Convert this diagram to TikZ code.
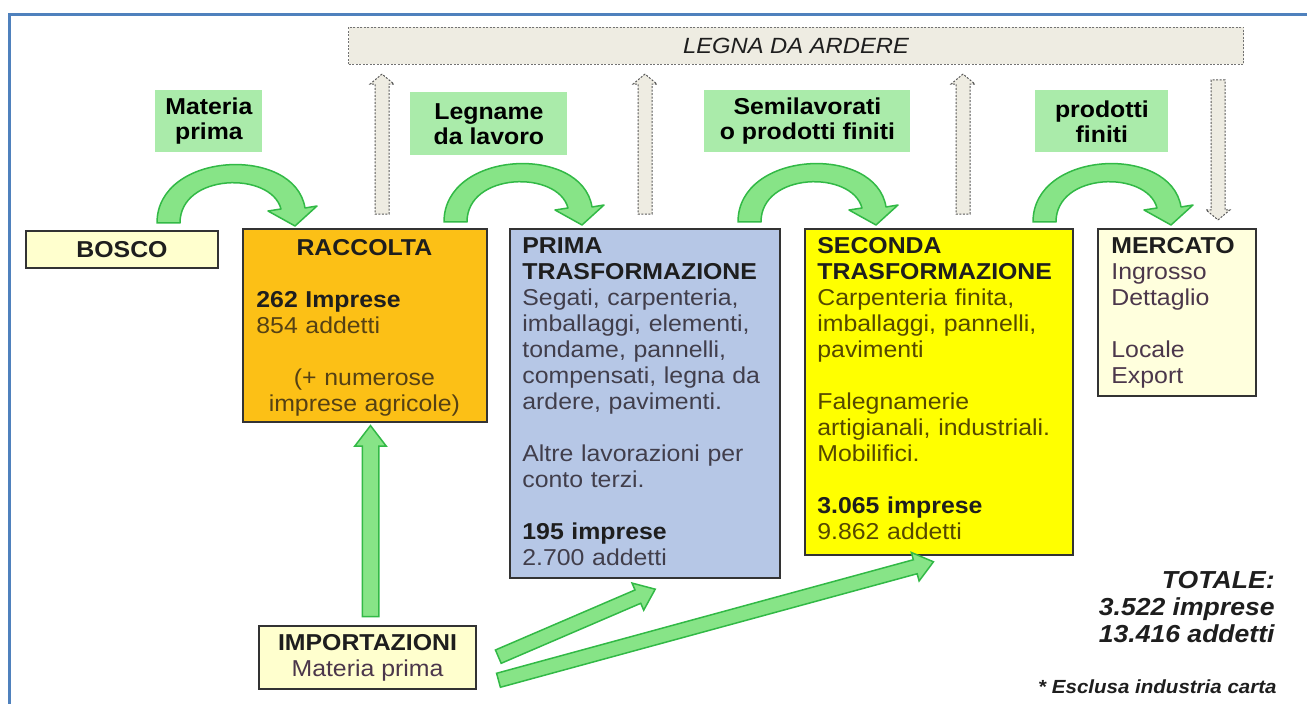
\documentclass[tikz,border=0pt]{standalone}
\usepackage{fontspec}
\setmainfont{Liberation Sans}[FakeStretch=1.08]
\usetikzlibrary{calc,fit,shapes.arrows}

\newlength{\pxu}\setlength{\pxu}{0.5pt}
\definecolor{cornice}{RGB}{79,129,189}
\definecolor{legnafondo}{RGB}{238,236,226}
\definecolor{etichetta}{RGB}{170,235,170}
\definecolor{verdefreccia}{RGB}{135,228,135}
\definecolor{bordoverde}{RGB}{50,185,70}
\definecolor{giallino}{RGB}{255,255,206}
\definecolor{arancio}{RGB}{252,192,22}
\definecolor{lilla}{RGB}{182,199,230}
\definecolor{giallo}{RGB}{255,255,0}
\definecolor{titoli}{RGB}{30,30,30}
\definecolor{testoracc}{RGB}{85,65,20}
\definecolor{testoprima}{RGB}{65,62,75}
\definecolor{testoseconda}{RGB}{85,72,0}
\definecolor{testomerc}{RGB}{75,55,75}

\newcommand{\corpo}{\fontsize{11.5}{13}\selectfont}
\newcommand{\titolo}{\fontsize{11.5}{12.5}\selectfont\bfseries}
\newcommand{\ctr}[1]{\hspace*{\fill}#1\hspace*{\fill}\mbox{}}
\newcommand{\tit}[1]{\textbf{\color{titoli}#1}}
% freccia piena tra due punti
\newcommand{\fatarrow}[3]{\path let \p1=($(#2)-(#1)$), \n1={veclen(\x1,\y1)} in
  (#1) -- node[#3, sloped, allow upside down, minimum height=\n1] {} (#2);}

\tikzset{
  scatola/.style={draw=black!80, line width=2\pxu, inner sep=0pt},
  testo/.style={inner sep=0pt, anchor=north west, align=left, font=\corpo},
  etich/.style={fill=etichetta, inner sep=0pt, anchor=north west, align=center, font=\titolo},
  pienaverde/.style={single arrow, draw=bordoverde, fill=verdefreccia, line width=1.5\pxu,
    inner xsep=0pt, single arrow head indent=0pt},
  cava/.style={single arrow, draw=black!65, dash pattern=on 2\pxu off 1.5\pxu, line width=1\pxu,
    fill=legnafondo, inner xsep=0pt, inner ysep=6.5\pxu, minimum width=23\pxu,
    single arrow head extend=5\pxu, single arrow tip angle=100},
  curva/.pic={
    \draw[bordoverde, fill=verdefreccia, line width=1.5\pxu, line join=round]
      (0,0) .. controls (0,-72) and (138,-78) .. (148,-15) -- (160,-17) -- (138,3)
      -- (111,-12) -- (124,-14) .. controls (114,-52) and (23,-50) .. (23,0) -- cycle;}
}

\begin{document}
\begin{tikzpicture}[x=\pxu, y=-\pxu]
\useasboundingbox (0,0) rectangle (1307,704);
\clip (0,0) rectangle (1307,704);
% cornice
\draw[cornice, line width=3\pxu] (9,15) rectangle (1340,740);
% legna da ardere
\node[anchor=north west, minimum width=895\pxu, minimum height=37\pxu, inner sep=0pt,
  fill=legnafondo, draw=black!55, dash pattern=on 2\pxu off 1.5\pxu, line width=1\pxu,
  font=\fontsize{11}{12}\selectfont\itshape, text=titoli] (legna) at (348,27) {LEGNA DA ARDERE};
% etichette verdi
\node[etich, minimum width=107\pxu, minimum height=62\pxu] (lab1) at (155,90) {Materia\\prima};
\node[etich, minimum width=157\pxu, minimum height=63\pxu] (lab2) at (410,92) {Legname\\da lavoro};
\node[etich, minimum width=206\pxu, minimum height=62\pxu] (lab3) at (704,90) {Semilavorati\\o prodotti finiti};
\node[etich, minimum width=133\pxu, minimum height=62\pxu] (lab4) at (1035,90) {prodotti\\finiti};
% riquadri
\node[scatola, fill=giallino, anchor=north west, minimum width=192\pxu, minimum height=37\pxu,
  font=\titolo, text=titoli] (bosco) at (25,230) {BOSCO};
\node[scatola, fill=arancio, fit={(243,229) (487,422)}] (racc) {};
\node[scatola, fill=lilla, fit={(510,229) (780,578)}] (prima) {};
\node[scatola, fill=giallo, fit={(805,229) (1073,555)}] (seconda) {};
\node[scatola, fill=giallino!70!white, fit={(1098,229) (1256,396)}] (merc) {};
\node[scatola, fill=giallino, anchor=north west, minimum width=217\pxu, minimum height=63\pxu,
  align=center, font=\corpo, text=testomerc] (imp) at (258,625) {\tit{IMPORTAZIONI}\\Materia prima};
% testi
\node[testo, text width=216\pxu, text=testoracc] (racct) at ($(racc.north west)+(14,11)$)
  {\ctr{\tit{RACCOLTA}}\\[13pt] \tit{262 Imprese}\\ 854 addetti\\[13pt]
   \ctr{(+ numerose}\\ \ctr{imprese agricole)}};
\node[testo, text width=246\pxu, text=testoprima] (primat) at ($(prima.north west)+(13,9)$)
  {\tit{PRIMA}\\ \tit{TRASFORMAZIONE}\\ Segati, carpenteria,\\ imballaggi, elementi,\\
   tondame, pannelli,\\ compensati, legna da\\ ardere, pavimenti.\\[13pt]
   Altre lavorazioni per\\ conto terzi.\\[13pt] \tit{195 imprese}\\ 2.700 addetti};
\node[testo, text width=244\pxu, text=testoseconda] (secondat) at ($(seconda.north west)+(13,9)$)
  {\tit{SECONDA}\\ \tit{TRASFORMAZIONE}\\ Carpenteria finita,\\ imballaggi, pannelli,\\
   pavimenti\\[13pt] Falegnamerie\\ artigianali, industriali.\\ Mobilifici.\\[13pt]
   \tit{3.065 imprese}\\ 9.862 addetti};
\node[testo, text width=132\pxu, text=testomerc] (merct) at ($(merc.north west)+(14,9)$)
  {\tit{MERCATO}\\ Ingrosso\\ Dettaglio\\[13pt] Locale\\ Export};
\node[anchor=north east, align=right, inner sep=0pt, text=titoli,
  font=\fontsize{12.3}{13.5}\selectfont\bfseries\itshape] (totale) at (1275,571)
  {TOTALE:\\ 3.522 imprese\\ 13.416 addetti};
\node[anchor=east, inner sep=0pt, text=titoli, font=\fontsize{9.5}{10}\selectfont\bfseries\itshape]
  (nota) at (1277,687) {* Esclusa industria carta};
% frecce curve
\pic at ($(bosco.north east)+(-62,-7)$) {curva};
\pic at ($(racc.north east)+(-44,-6)$) {curva};
\pic at ($(prima.north east)+(-43,-6)$) {curva};
\pic at ($(seconda.north east)+(-41,-6)$) {curva};
% frecce legna
\coordinate (h1) at ($(racc.north)+(17,-11)$);
\coordinate (h2) at ($(prima.north)+(0,-11)$);
\coordinate (h3) at ($(seconda.north)+(24,-11)$);
\coordinate (h4) at ($(merc.north)+(41,-11)$);
\foreach \h in {h1,h2,h3}{
  \coordinate (t\h) at ($(\h |- legna.south)+(0,12)$);
  \fatarrow{\h}{t\h}{cava}
}
\coordinate (th4) at ($(h4 |- legna.south)+(0,12)$);
\fatarrow{th4}{h4}{cava}
% importazioni
\coordinate (v1s) at ($(imp.north)+(3,-3)$);
\coordinate (v1e) at ($(v1s |- racc.south)+(0,8)$);
\fatarrow{v1s}{v1e}{pienaverde, inner ysep=7.5\pxu, minimum width=30\pxu,
  single arrow head extend=7.5\pxu, single arrow tip angle=75}
\coordinate (d1s) at ($(imp.east)+(17,1)$);
\coordinate (d1e) at ($(prima.south west)+(142,12)$);
\coordinate (d2s) at ($(imp.east)+(17,24)$);
\coordinate (d2e) at ($(seconda.south west)+(125,7)$);
\fatarrow{d1s}{d1e}{pienaverde, inner ysep=6.5\pxu, minimum width=28\pxu,
  single arrow head extend=7.5\pxu, single arrow tip angle=76}
\fatarrow{d2s}{d2e}{pienaverde, inner ysep=6.5\pxu, minimum width=28\pxu,
  single arrow head extend=7.5\pxu, single arrow tip angle=76}
\end{tikzpicture}
\end{document}
